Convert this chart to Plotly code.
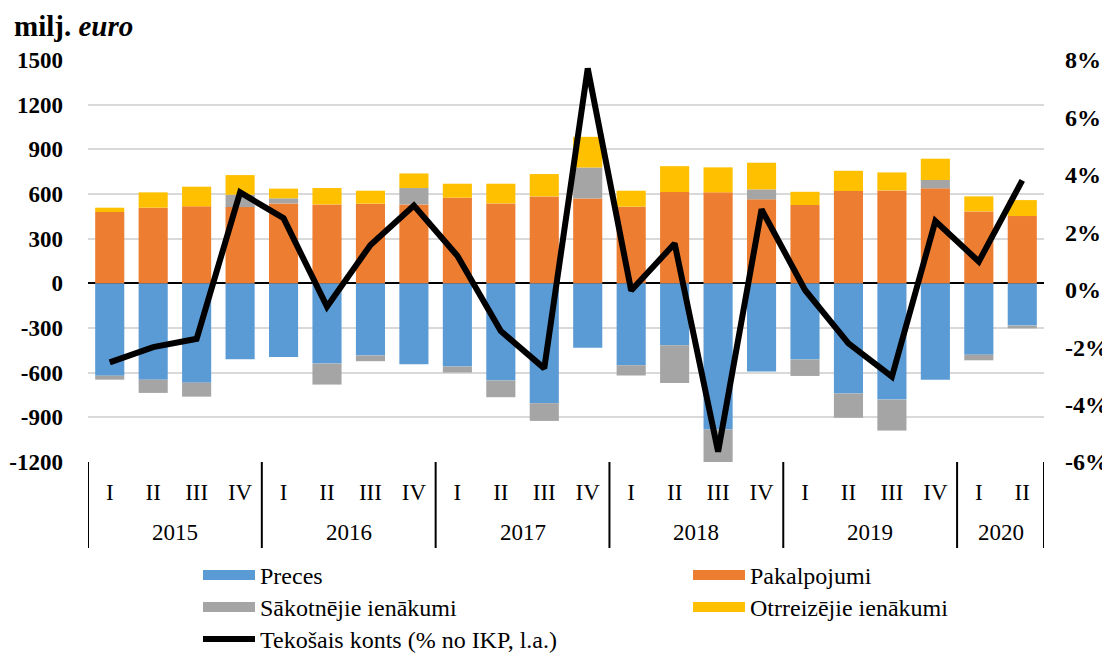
import plotly.graph_objects as go

years = ["2015"] * 4 + ["2016"] * 4 + ["2017"] * 4 + ["2018"] * 4 + ["2019"] * 4 + ["2020"] * 2
quarters = ["I", "II", "III", "IV"] * 5 + ["I", "II"]

preces = [-620, -647, -667, -510, -494, -539, -485, -544, -559, -653, -805, -432,
          -550, -416, -982, -593, -512, -740, -781, -647, -479, -284]
pakalpojumi = [479, 508, 517, 512, 537, 530, 535, 530, 575, 537, 584, 570,
               515, 613, 611, 564, 526, 620, 624, 638, 483, 452]
sakotnejie = [-27, -89, -94, 83, 34, -141, -38, 110, -40, -112, -119, 208,
              -69, -253, -218, 67, -110, -163, -208, 56, -38, -18]
otrreizejie = [29, 103, 132, 132, 65, 110, 87, 98, 94, 132, 150, 206,
               107, 174, 168, 179, 89, 136, 121, 143, 101, 107]
tekosais = [-2.53, -2.00, -1.71, 3.39, 2.49, -0.59, 1.56, 2.93, 1.18, -1.44, -2.74, 7.71,
            -0.03, 1.61, -5.64, 2.80, -0.01, -1.87, -3.03, 2.39, 0.98, 3.81]

left_ticks = [-1200, -900, -600, -300, 0, 300, 600, 900, 1200, 1500]
right_ticks = [-6, -4, -2, 0, 2, 4, 6, 8]

names = ["Preces", "Pakalpojumi", "Sākotnējie ienākumi", "Otrreizējie ienākumi"]
colors = ["#5B9BD5", "#ED7D31", "#A5A5A5", "#FFC000"]
series = [preces, pakalpojumi, sakotnejie, otrreizejie]
line_name = "Tekošais konts (% no IKP, l.a.)"

FONT = "Liberation Serif"
idx = list(range(len(quarters)))

# layout geometry (figure pixels; page adds an 8px body margin)
W, H = 1102, 647
ML, MR, MT, MB = 80, 66, 52, 193
PW, PH = W - ML - MR, H - MT - MB

fig = go.Figure()
for name, col, vals in zip(names, colors, series):
    fig.add_trace(go.Bar(x=idx, y=vals, name=name, marker=dict(color=col, line=dict(width=0)),
                         showlegend=False))

fig.add_trace(go.Scatter(x=idx, y=tekosais, yaxis="y2", mode="lines",
                         line=dict(color="black", width=6), showlegend=False))

# legend proxies (wide swatches): one small legend per entry, laid out in two columns
legend_ids = ["legend", "legend2", "legend3", "legend4"]
for name, col, lid in zip(names, colors, legend_ids):
    fig.add_trace(go.Scatter(x=[None], y=[None], mode="lines", name=name,
                             legend=lid, line=dict(color=col, width=11)))
fig.add_trace(go.Scatter(x=[None], y=[None], mode="lines", name=line_name,
                         legend="legend5", line=dict(color="black", width=6), yaxis="y2"))

leg_common = dict(
    orientation="v", yanchor="top", xanchor="left", itemwidth=52,
    font=dict(family=FONT, size=24, color="black"), bgcolor="rgba(0,0,0,0)",
)
col_x = [(190 - ML) / PW, (680 - ML) / PW]
row_y = [(MT + PH - t) / PH for t in (545, 577, 609)]

# year labels and group dividers from the category lists
groups = []
for i, yv in enumerate(years):
    if not groups or groups[-1][0] != yv:
        groups.append([yv, i, i])
    else:
        groups[-1][2] = i

annotations = [dict(
    text="<b>milj. <i>euro</i></b>", xref="paper", yref="paper",
    x=(4 - ML) / PW, y=(MT + PH - 18) / PH, xanchor="left", yanchor="middle",
    showarrow=False, font=dict(family=FONT, size=29, color="black"),
)]
shapes = []
bounds = set()
for yv, a, b in groups:
    annotations.append(dict(text=yv, xref="x", yref="paper", x=(a + b) / 2, y=-70 / PH,
                            xanchor="center", yanchor="middle", showarrow=False,
                            font=dict(family=FONT, size=23, color="black")))
    bounds.add(a - 0.5)
    bounds.add(b + 0.5)
for bx in sorted(bounds):
    shapes.append(dict(type="line", xref="x", yref="paper", x0=bx, x1=bx, y0=0, y1=-86 / PH,
                       line=dict(color="black", width=2)))

fig.update_layout(
    width=W, height=H,
    margin=dict(l=ML, r=MR, t=MT, b=MB, autoexpand=False),
    paper_bgcolor="white", plot_bgcolor="white",
    barmode="relative", bargap=0.33,
    font=dict(family=FONT, size=21, color="black"),
    xaxis=dict(
        range=[-0.5, len(idx) - 0.5], tickvals=idx, ticktext=quarters,
        showgrid=False, ticks="", showline=False, zeroline=False, automargin=False,
        tickfont=dict(family=FONT, size=23, color="black"),
        ticklabelstandoff=14,
    ),
    yaxis=dict(
        range=[-1200, 1500], tickvals=left_ticks, ticktext=[str(v) for v in left_ticks],
        showgrid=True, gridcolor="#d9d9d9", gridwidth=1.5,
        zeroline=True, zerolinecolor="black", zerolinewidth=1.5, showline=False, automargin=False,
        tickfont=dict(family=FONT, size=23, color="black", weight="bold"),
        ticklabelstandoff=24,
    ),
    yaxis2=dict(
        range=[-6, 8], tickvals=right_ticks, ticktext=[f"{v}%" for v in right_ticks],
        overlaying="y", side="right", showgrid=False, zeroline=False, showline=False, automargin=False,
        tickfont=dict(family=FONT, size=24, color="black", weight="bold"),
        ticklabelstandoff=20,
    ),
    legend=dict(x=col_x[0], y=row_y[0], **leg_common),
    legend2=dict(x=col_x[1], y=row_y[0], **leg_common),
    legend3=dict(x=col_x[0], y=row_y[1], **leg_common),
    legend4=dict(x=col_x[1], y=row_y[1], **leg_common),
    legend5=dict(x=col_x[0], y=row_y[2], **leg_common),
    annotations=annotations,
    shapes=shapes,
)

fig.write_html("out.html")
